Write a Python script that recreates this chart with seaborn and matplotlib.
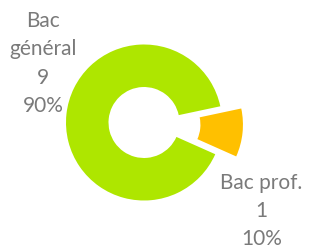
import numpy as np
import matplotlib
matplotlib.use("Agg")
import matplotlib.pyplot as plt
import seaborn as sns

categories = ["Bac général", "Bac prof."]
counts = [9, 1]
colors = ["#AEE600", "#FFC000"]

sns.set_theme(style="white")
plt.rcParams["font.family"] = ["Lato", "DejaVu Sans"]

fig = plt.figure(figsize=(3.10, 2.51), dpi=100)
ax = fig.add_axes([0, 0, 1, 1])

wedges, _ = ax.pie(counts, colors=colors, startangle=12, counterclock=True,
                   explode=[0, 0.27], radius=1,
                   wedgeprops=dict(width=0.545, linewidth=0))

total = sum(counts)
txt = [f"{c}\n{v}\n{v/total:.0%}" for c, v in zip(categories, counts)]
txt[0] = txt[0].replace("Bac ", "Bac\n")
ax.text(-1.295, 0.769, txt[0], ha="center", va="center", fontsize=15,
        color="#7A7A7A", linespacing=1.52)
ax.text(1.506, -1.122, txt[1], ha="center", va="center", fontsize=15,
        color="#7A7A7A", linespacing=1.52)

ax.set_aspect("auto")
ax.set_xlim(-144 / 78, 166 / 78)
ax.set_ylim(-127.5 / 78, 123.5 / 78)
ax.axis("off")

fig.savefig("out.png", dpi=100)
